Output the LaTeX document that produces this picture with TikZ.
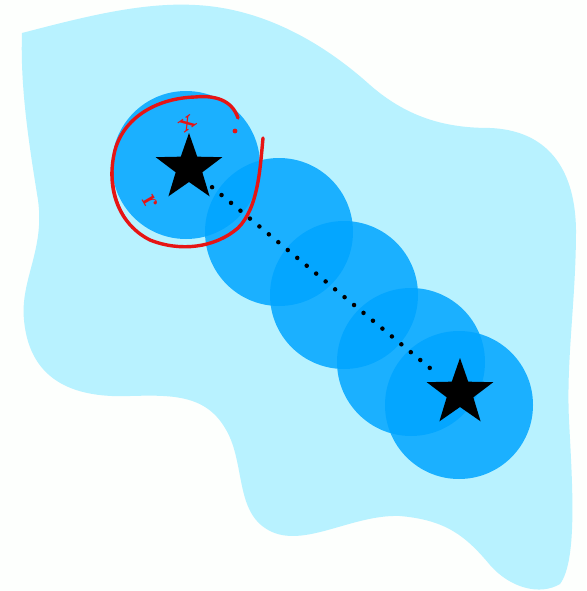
\documentclass[tikz,border=0pt]{standalone}
\usetikzlibrary{shapes.geometric}
\definecolor{blobc}{RGB}{184,242,255}
\definecolor{discc}{RGB}{0,165,255}
\definecolor{penred}{RGB}{230,20,20}
\definecolor{paper}{RGB}{253,255,253}
\tikzset{
  disc/.style={circle, minimum size=148pt, inner sep=0pt, fill=discc, fill opacity=0.85},
  starnode/.style={star, star points=5, star point ratio=2.5, minimum size=70pt, inner sep=0pt, fill=black},
  pen/.style={draw=penred, line width=3.4pt, line cap=round, line join=round},
  dotline/.style={line width=4.5pt, line cap=round, dash pattern=on 0pt off 12.3pt, black},
  scribble/.style={text=penred, font=\bfseries\fontsize{28}{28}\selectfont, inner sep=0pt}
}
\begin{document}
\begin{tikzpicture}[x=1pt,y=-1pt]
\fill[paper] (0,0) rectangle (586,591);
\useasboundingbox (0,0) rectangle (586,591);
% background blob
\fill[blobc] (22,33) .. controls (80,18) and (140,2) .. (195,5)
  .. controls (260,8) and (320,40) .. (370,85)
  .. controls (410,120) and (450,128) .. (490,128)
  .. controls (540,130) and (575,160) .. (576,230)
  .. controls (576,300) and (566,360) .. (569,420)
  .. controls (572,480) and (578,560) .. (560,584)
  .. controls (540,596) and (510,588) .. (490,565)
  .. controls (465,535) and (445,520) .. (400,516)
  .. controls (350,514) and (300,552) .. (265,528)
  .. controls (235,508) and (245,460) .. (225,428)
  .. controls (205,394) and (170,395) .. (130,396)
  .. controls (80,398) and (30,385) .. (24,320)
  .. controls (20,280) and (45,250) .. (38,200)
  .. controls (30,150) and (20,90) .. (22,33) -- cycle;
% discs
\node[disc] (c1) at (186,165) {};
\node[disc] (c2) at (279,232) {};
\node[disc] (c3) at (344,295) {};
\node[disc] (c4) at (411,362) {};
\node[disc] (c5) at (459,405) {};
% stars and dotted path
\node[starnode] (s1) at (189,168) {};
\node[starnode] (s2) at (460,393) {};
\draw[dotline, shorten <=30pt, shorten >=34pt] (s1.center) -- (s2.center);
% red hand-drawn circle
\draw[pen] (238,118) .. controls (232,100) and (215,95) .. (195,97)
  .. controls (160,98) and (125,115) .. (115,150)
  .. controls (105,190) and (120,225) .. (150,240)
  .. controls (180,252) and (215,248) .. (238,228)
  .. controls (258,208) and (260,170) .. (263,138);
\draw[penred, line width=1.6pt, line cap=round] (113,160) .. controls (111,190) and (118,212) .. (135,230);
\fill[penred] (235,131) circle (2.4pt);
\node[scribble, rotate=35] (lx) at (188,124) {x};
\node[scribble, rotate=-60] (lr) at (150,202) {r};
\end{tikzpicture}
\end{document}
